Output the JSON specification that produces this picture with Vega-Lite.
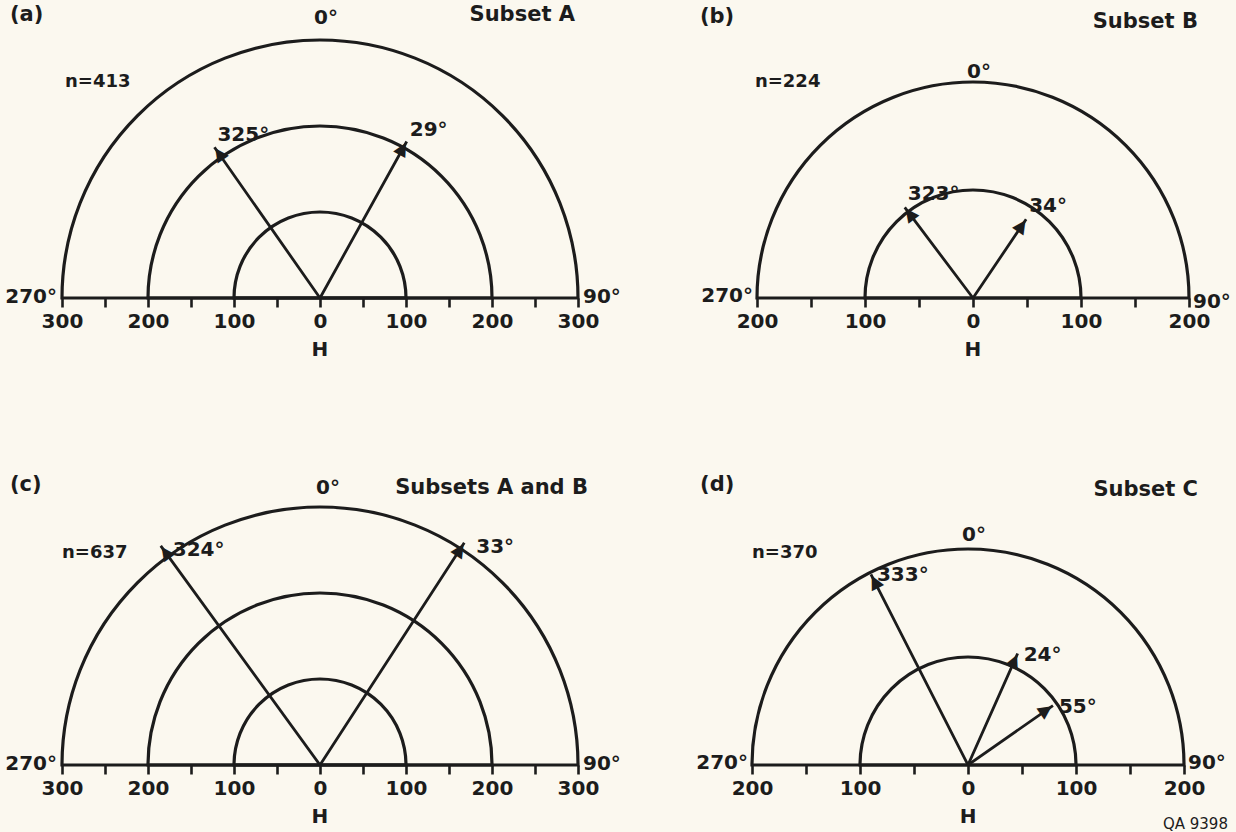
{
  "$schema": "https://vega.github.io/schema/vega-lite/v6.json",
  "background": "#fbf8ef",
  "padding": 0,
  "datasets": {
    "arrowsA": [{"bearing": 325, "H": 214, "label": "325°"}, {"bearing": 29, "H": 208, "label": "29°"}],
    "arrowsB": [{"bearing": 323, "H": 105, "label": "323°"}, {"bearing": 34, "H": 88, "label": "34°"}],
    "arrowsC": [{"bearing": 324, "H": 315, "label": "324°"}, {"bearing": 33, "H": 308, "label": "33°"}],
    "arrowsD": [{"bearing": 333, "H": 198, "label": "333°"}, {"bearing": 24, "H": 113, "label": "24°"}, {"bearing": 55, "H": 96, "label": "55°"}]
  },
  "columns": 2,
  "spacing": {"row": 172, "column": 0},
  "bounds": "flush",
  "concat": [
    {
      "width": 618, "height": 298,
      "encoding": {
        "x": {"datum": 0, "type": "quantitative",
              "scale": {"domain": [-372.093, 346.512], "nice": false, "zero": false},
              "axis": {"values": [-300, -250, -200, -150, -100, -50, 0, 50, 100, 150, 200, 250, 300],
                       "labelExpr": "abs(datum.value) % 100 === 0 ? format(abs(datum.value), 'd') : ''", "title": null}},
        "y": {"datum": 0, "type": "quantitative",
              "scale": {"domain": [0, 346.512], "nice": false, "zero": false}, "axis": null}
      },
      "layer": [
        {"data": {"values": [{"H": 100}, {"H": 200}, {"H": 300}]},
         "mark": {"type": "arc", "filled": false, "color": "#1c1c1c", "strokeWidth": 3.2},
         "encoding": {
           "theta": {"datum": -90, "type": "quantitative", "scale": {"domain": [0, 360], "range": [0, 6.283185307179586]}},
           "theta2": {"datum": 90},
           "radius": {"field": "H", "type": "quantitative", "stack": null, "scale": {"type": "linear", "domain": [0, 300], "range": [0, 258], "zero": true, "nice": false}}}},
        {"data": {"name": "arrowsA"},
         "mark": {"type": "arc", "filled": false, "color": "#1c1c1c", "strokeWidth": 2.8},
         "encoding": {
           "theta": {"field": "bearing", "type": "quantitative", "stack": null},
           "theta2": {"field": "bearing"},
           "radius": {"field": "H", "type": "quantitative", "stack": null}}},
        {"data": {"name": "arrowsA"},
         "mark": {"type": "text", "text": "▲", "fontSize": 18, "fontWeight": "normal", "radiusOffset": -8},
         "encoding": {
           "theta": {"field": "bearing", "type": "quantitative", "stack": null},
           "radius": {"field": "H", "type": "quantitative", "stack": null},
           "angle": {"field": "bearing", "type": "quantitative", "scale": null}}},
        {"data": {"name": "arrowsA"},
         "mark": {"type": "text", "align": "left", "dx": 3, "dy": -12},
         "encoding": {
           "theta": {"field": "bearing", "type": "quantitative", "stack": null},
           "radius": {"field": "H", "type": "quantitative", "stack": null},
           "text": {"field": "label"}}},
        {"data": {"values": [{"label": "0°"}]},
         "mark": {"type": "text", "dx": 6, "radiusOffset": 22},
         "encoding": {"theta": {"datum": 0, "type": "quantitative"}, "radius": {"datum": 300, "type": "quantitative"}, "text": {"field": "label"}}},
        {"data": {"values": [{"label": "270°"}]},
         "mark": {"type": "text", "align": "right", "dx": -5, "dy": -1},
         "encoding": {"theta": {"datum": 270, "type": "quantitative"}, "radius": {"datum": 300, "type": "quantitative"}, "text": {"field": "label"}}},
        {"data": {"values": [{"label": "90°"}]},
         "mark": {"type": "text", "align": "left", "dx": 5, "dy": -1},
         "encoding": {"theta": {"datum": 90, "type": "quantitative"}, "radius": {"datum": 300, "type": "quantitative"}, "text": {"field": "label"}}},
        {"data": {"values": [{"label": "(a)"}]},
         "mark": {"type": "text", "align": "left", "fontSize": 21},
         "encoding": {"x": {"datum": -360.5, "type": "quantitative"}, "y": {"datum": 329.1, "type": "quantitative", "axis": null}, "text": {"field": "label"}}},
        {"data": {"values": [{"label": "Subset A"}]},
         "mark": {"type": "text", "align": "right", "fontSize": 21},
         "encoding": {"x": {"datum": 296.5, "type": "quantitative"}, "y": {"datum": 329.1, "type": "quantitative", "axis": null}, "text": {"field": "label"}}},
        {"data": {"values": [{"label": "n=413"}]},
         "mark": {"type": "text", "align": "left", "fontSize": 18},
         "encoding": {"x": {"datum": -296.5, "type": "quantitative"}, "y": {"datum": 251.2, "type": "quantitative", "axis": null}, "text": {"field": "label"}}},
        {"data": {"values": [{"label": "H"}]},
         "mark": {"type": "text"},
         "encoding": {"y": {"datum": -60.5, "type": "quantitative", "axis": null}, "text": {"field": "label"}}}
      ]
    },
    {
      "width": 618, "height": 298,
      "encoding": {
        "x": {"datum": 0, "type": "quantitative",
              "scale": {"domain": [-328.704, 243.519], "nice": false, "zero": false},
              "axis": {"values": [-200, -150, -100, -50, 0, 50, 100, 150, 200],
                       "labelExpr": "abs(datum.value) % 100 === 0 ? format(abs(datum.value), 'd') : ''", "title": null}},
        "y": {"datum": 0, "type": "quantitative",
              "scale": {"domain": [0, 275.926], "nice": false, "zero": false}, "axis": null}
      },
      "layer": [
        {"data": {"values": [{"H": 100}, {"H": 200}]},
         "mark": {"type": "arc", "filled": false, "color": "#1c1c1c", "strokeWidth": 3.2},
         "encoding": {
           "theta": {"datum": -90, "type": "quantitative", "scale": {"domain": [0, 360], "range": [0, 6.283185307179586]}},
           "theta2": {"datum": 90},
           "radius": {"field": "H", "type": "quantitative", "stack": null, "scale": {"type": "linear", "domain": [0, 200], "range": [0, 216], "zero": true, "nice": false}}}},
        {"data": {"name": "arrowsB"},
         "mark": {"type": "arc", "filled": false, "color": "#1c1c1c", "strokeWidth": 2.8},
         "encoding": {
           "theta": {"field": "bearing", "type": "quantitative", "stack": null},
           "theta2": {"field": "bearing"},
           "radius": {"field": "H", "type": "quantitative", "stack": null}}},
        {"data": {"name": "arrowsB"},
         "mark": {"type": "text", "text": "▲", "fontSize": 18, "fontWeight": "normal", "radiusOffset": -8},
         "encoding": {
           "theta": {"field": "bearing", "type": "quantitative", "stack": null},
           "radius": {"field": "H", "type": "quantitative", "stack": null},
           "angle": {"field": "bearing", "type": "quantitative", "scale": null}}},
        {"data": {"name": "arrowsB"},
         "mark": {"type": "text", "align": "left", "dx": 3, "dy": -13},
         "encoding": {
           "theta": {"field": "bearing", "type": "quantitative", "stack": null},
           "radius": {"field": "H", "type": "quantitative", "stack": null},
           "text": {"field": "label"}}},
        {"data": {"values": [{"label": "0°"}]},
         "mark": {"type": "text", "dx": 6, "radiusOffset": 10},
         "encoding": {"theta": {"datum": 0, "type": "quantitative"}, "radius": {"datum": 200, "type": "quantitative"}, "text": {"field": "label"}}},
        {"data": {"values": [{"label": "270°"}]},
         "mark": {"type": "text", "align": "right", "dx": -4, "dy": -2},
         "encoding": {"theta": {"datum": 270, "type": "quantitative"}, "radius": {"datum": 200, "type": "quantitative"}, "text": {"field": "label"}}},
        {"data": {"values": [{"label": "90°"}]},
         "mark": {"type": "text", "align": "left", "dx": 4, "dy": 4},
         "encoding": {"theta": {"datum": 90, "type": "quantitative"}, "radius": {"datum": 200, "type": "quantitative"}, "text": {"field": "label"}}},
        {"data": {"values": [{"label": "(b)"}]},
         "mark": {"type": "text", "align": "left", "fontSize": 21},
         "encoding": {"x": {"datum": -252.8, "type": "quantitative"}, "y": {"datum": 260.2, "type": "quantitative", "axis": null}, "text": {"field": "label"}}},
        {"data": {"values": [{"label": "Subset B"}]},
         "mark": {"type": "text", "align": "right", "fontSize": 21},
         "encoding": {"x": {"datum": 208.3, "type": "quantitative"}, "y": {"datum": 256.0, "type": "quantitative", "axis": null}, "text": {"field": "label"}}},
        {"data": {"values": [{"label": "n=224"}]},
         "mark": {"type": "text", "align": "left", "fontSize": 18},
         "encoding": {"x": {"datum": -201.9, "type": "quantitative"}, "y": {"datum": 200.0, "type": "quantitative", "axis": null}, "text": {"field": "label"}}},
        {"data": {"values": [{"label": "H"}]},
         "mark": {"type": "text"},
         "encoding": {"y": {"datum": -48.1, "type": "quantitative", "axis": null}, "text": {"field": "label"}}}
      ]
    },
    {
      "width": 618, "height": 295,
      "encoding": {
        "x": {"datum": 0, "type": "quantitative",
              "scale": {"domain": [-372.093, 346.512], "nice": false, "zero": false},
              "axis": {"values": [-300, -250, -200, -150, -100, -50, 0, 50, 100, 150, 200, 250, 300],
                       "labelExpr": "abs(datum.value) % 100 === 0 ? format(abs(datum.value), 'd') : ''", "title": null}},
        "y": {"datum": 0, "type": "quantitative",
              "scale": {"domain": [0, 343.023], "nice": false, "zero": false}, "axis": null}
      },
      "layer": [
        {"data": {"values": [{"H": 100}, {"H": 200}, {"H": 300}]},
         "mark": {"type": "arc", "filled": false, "color": "#1c1c1c", "strokeWidth": 3.2},
         "encoding": {
           "theta": {"datum": -90, "type": "quantitative", "scale": {"domain": [0, 360], "range": [0, 6.283185307179586]}},
           "theta2": {"datum": 90},
           "radius": {"field": "H", "type": "quantitative", "stack": null, "scale": {"type": "linear", "domain": [0, 300], "range": [0, 258], "zero": true, "nice": false}}}},
        {"data": {"name": "arrowsC"},
         "mark": {"type": "arc", "filled": false, "color": "#1c1c1c", "strokeWidth": 2.8},
         "encoding": {
           "theta": {"field": "bearing", "type": "quantitative", "stack": null},
           "theta2": {"field": "bearing"},
           "radius": {"field": "H", "type": "quantitative", "stack": null}}},
        {"data": {"name": "arrowsC"},
         "mark": {"type": "text", "text": "▲", "fontSize": 18, "fontWeight": "normal", "radiusOffset": -8},
         "encoding": {
           "theta": {"field": "bearing", "type": "quantitative", "stack": null},
           "radius": {"field": "H", "type": "quantitative", "stack": null},
           "angle": {"field": "bearing", "type": "quantitative", "scale": null}}},
        {"data": {"name": "arrowsC"},
         "mark": {"type": "text", "align": "left", "dx": 12, "dy": 4},
         "encoding": {
           "theta": {"field": "bearing", "type": "quantitative", "stack": null},
           "radius": {"field": "H", "type": "quantitative", "stack": null},
           "text": {"field": "label"}}},
        {"data": {"values": [{"label": "0°"}]},
         "mark": {"type": "text", "dx": 8, "radiusOffset": 19},
         "encoding": {"theta": {"datum": 0, "type": "quantitative"}, "radius": {"datum": 300, "type": "quantitative"}, "text": {"field": "label"}}},
        {"data": {"values": [{"label": "270°"}]},
         "mark": {"type": "text", "align": "right", "dx": -5, "dy": -1},
         "encoding": {"theta": {"datum": 270, "type": "quantitative"}, "radius": {"datum": 300, "type": "quantitative"}, "text": {"field": "label"}}},
        {"data": {"values": [{"label": "90°"}]},
         "mark": {"type": "text", "align": "left", "dx": 5, "dy": -1},
         "encoding": {"theta": {"datum": 90, "type": "quantitative"}, "radius": {"datum": 300, "type": "quantitative"}, "text": {"field": "label"}}},
        {"data": {"values": [{"label": "(c)"}]},
         "mark": {"type": "text", "align": "left", "fontSize": 21},
         "encoding": {"x": {"datum": -360.5, "type": "quantitative"}, "y": {"datum": 325.6, "type": "quantitative", "axis": null}, "text": {"field": "label"}}},
        {"data": {"values": [{"label": "Subsets A and B"}]},
         "mark": {"type": "text", "align": "right", "fontSize": 21},
         "encoding": {"x": {"datum": 311.6, "type": "quantitative"}, "y": {"datum": 322.1, "type": "quantitative", "axis": null}, "text": {"field": "label"}}},
        {"data": {"values": [{"label": "n=637"}]},
         "mark": {"type": "text", "align": "left", "fontSize": 18},
         "encoding": {"x": {"datum": -300.0, "type": "quantitative"}, "y": {"datum": 246.5, "type": "quantitative", "axis": null}, "text": {"field": "label"}}},
        {"data": {"values": [{"label": "H"}]},
         "mark": {"type": "text"},
         "encoding": {"y": {"datum": -60.5, "type": "quantitative", "axis": null}, "text": {"field": "label"}}}
      ]
    },
    {
      "width": 618, "height": 295,
      "encoding": {
        "x": {"datum": 0, "type": "quantitative",
              "scale": {"domain": [-324.074, 248.148], "nice": false, "zero": false},
              "axis": {"values": [-200, -150, -100, -50, 0, 50, 100, 150, 200],
                       "labelExpr": "abs(datum.value) % 100 === 0 ? format(abs(datum.value), 'd') : ''", "title": null}},
        "y": {"datum": 0, "type": "quantitative",
              "scale": {"domain": [0, 273.148], "nice": false, "zero": false}, "axis": null}
      },
      "layer": [
        {"data": {"values": [{"H": 100}, {"H": 200}]},
         "mark": {"type": "arc", "filled": false, "color": "#1c1c1c", "strokeWidth": 3.2},
         "encoding": {
           "theta": {"datum": -90, "type": "quantitative", "scale": {"domain": [0, 360], "range": [0, 6.283185307179586]}},
           "theta2": {"datum": 90},
           "radius": {"field": "H", "type": "quantitative", "stack": null, "scale": {"type": "linear", "domain": [0, 200], "range": [0, 216], "zero": true, "nice": false}}}},
        {"data": {"name": "arrowsD"},
         "mark": {"type": "arc", "filled": false, "color": "#1c1c1c", "strokeWidth": 2.8},
         "encoding": {
           "theta": {"field": "bearing", "type": "quantitative", "stack": null},
           "theta2": {"field": "bearing"},
           "radius": {"field": "H", "type": "quantitative", "stack": null}}},
        {"data": {"name": "arrowsD"},
         "mark": {"type": "text", "text": "▲", "fontSize": 18, "fontWeight": "normal", "radiusOffset": -8},
         "encoding": {
           "theta": {"field": "bearing", "type": "quantitative", "stack": null},
           "radius": {"field": "H", "type": "quantitative", "stack": null},
           "angle": {"field": "bearing", "type": "quantitative", "scale": null}}},
        {"data": {"name": "arrowsD"},
         "mark": {"type": "text", "align": "left", "dx": 6, "dy": 1},
         "encoding": {
           "theta": {"field": "bearing", "type": "quantitative", "stack": null},
           "radius": {"field": "H", "type": "quantitative", "stack": null},
           "text": {"field": "label"}}},
        {"data": {"values": [{"label": "0°"}]},
         "mark": {"type": "text", "dx": 6, "radiusOffset": 14},
         "encoding": {"theta": {"datum": 0, "type": "quantitative"}, "radius": {"datum": 200, "type": "quantitative"}, "text": {"field": "label"}}},
        {"data": {"values": [{"label": "270°"}]},
         "mark": {"type": "text", "align": "right", "dx": -4, "dy": -2},
         "encoding": {"theta": {"datum": 270, "type": "quantitative"}, "radius": {"datum": 200, "type": "quantitative"}, "text": {"field": "label"}}},
        {"data": {"values": [{"label": "90°"}]},
         "mark": {"type": "text", "align": "left", "dx": 4, "dy": -2},
         "encoding": {"theta": {"datum": 90, "type": "quantitative"}, "radius": {"datum": 200, "type": "quantitative"}, "text": {"field": "label"}}},
        {"data": {"values": [{"label": "(d)"}]},
         "mark": {"type": "text", "align": "left", "fontSize": 21},
         "encoding": {"x": {"datum": -248.1, "type": "quantitative"}, "y": {"datum": 259.3, "type": "quantitative", "axis": null}, "text": {"field": "label"}}},
        {"data": {"values": [{"label": "Subset C"}]},
         "mark": {"type": "text", "align": "right", "fontSize": 21},
         "encoding": {"x": {"datum": 213.0, "type": "quantitative"}, "y": {"datum": 254.6, "type": "quantitative", "axis": null}, "text": {"field": "label"}}},
        {"data": {"values": [{"label": "n=370"}]},
         "mark": {"type": "text", "align": "left", "fontSize": 18},
         "encoding": {"x": {"datum": -200.0, "type": "quantitative"}, "y": {"datum": 196.3, "type": "quantitative", "axis": null}, "text": {"field": "label"}}},
        {"data": {"values": [{"label": "H"}]},
         "mark": {"type": "text"},
         "encoding": {"y": {"datum": -48.1, "type": "quantitative", "axis": null}, "text": {"field": "label"}}},
        {"data": {"values": [{"label": "QA 9398"}]},
         "mark": {"type": "text", "align": "right", "fontSize": 15, "fontWeight": "normal"},
         "encoding": {"x": {"datum": 240.7, "type": "quantitative"}, "y": {"datum": -54.6, "type": "quantitative", "axis": null}, "text": {"field": "label"}}}
      ]
    }
  ],
  "config": {
    "view": {"stroke": null},
    "font": "DejaVu Sans",
    "text": {"font": "DejaVu Sans", "fontSize": 20, "fontWeight": "bold", "color": "#1c1c1c", "baseline": "middle"},
    "axisX": {"domain": false, "grid": false, "ticks": true, "tickSize": 9, "tickWidth": 2.6, "tickColor": "#1c1c1c",
              "labelFont": "DejaVu Sans", "labelFontSize": 20, "labelFontWeight": "bold", "labelColor": "#1c1c1c", "labelPadding": 4,
              "labelFlush": false, "labelOverlap": false}
  }
}
